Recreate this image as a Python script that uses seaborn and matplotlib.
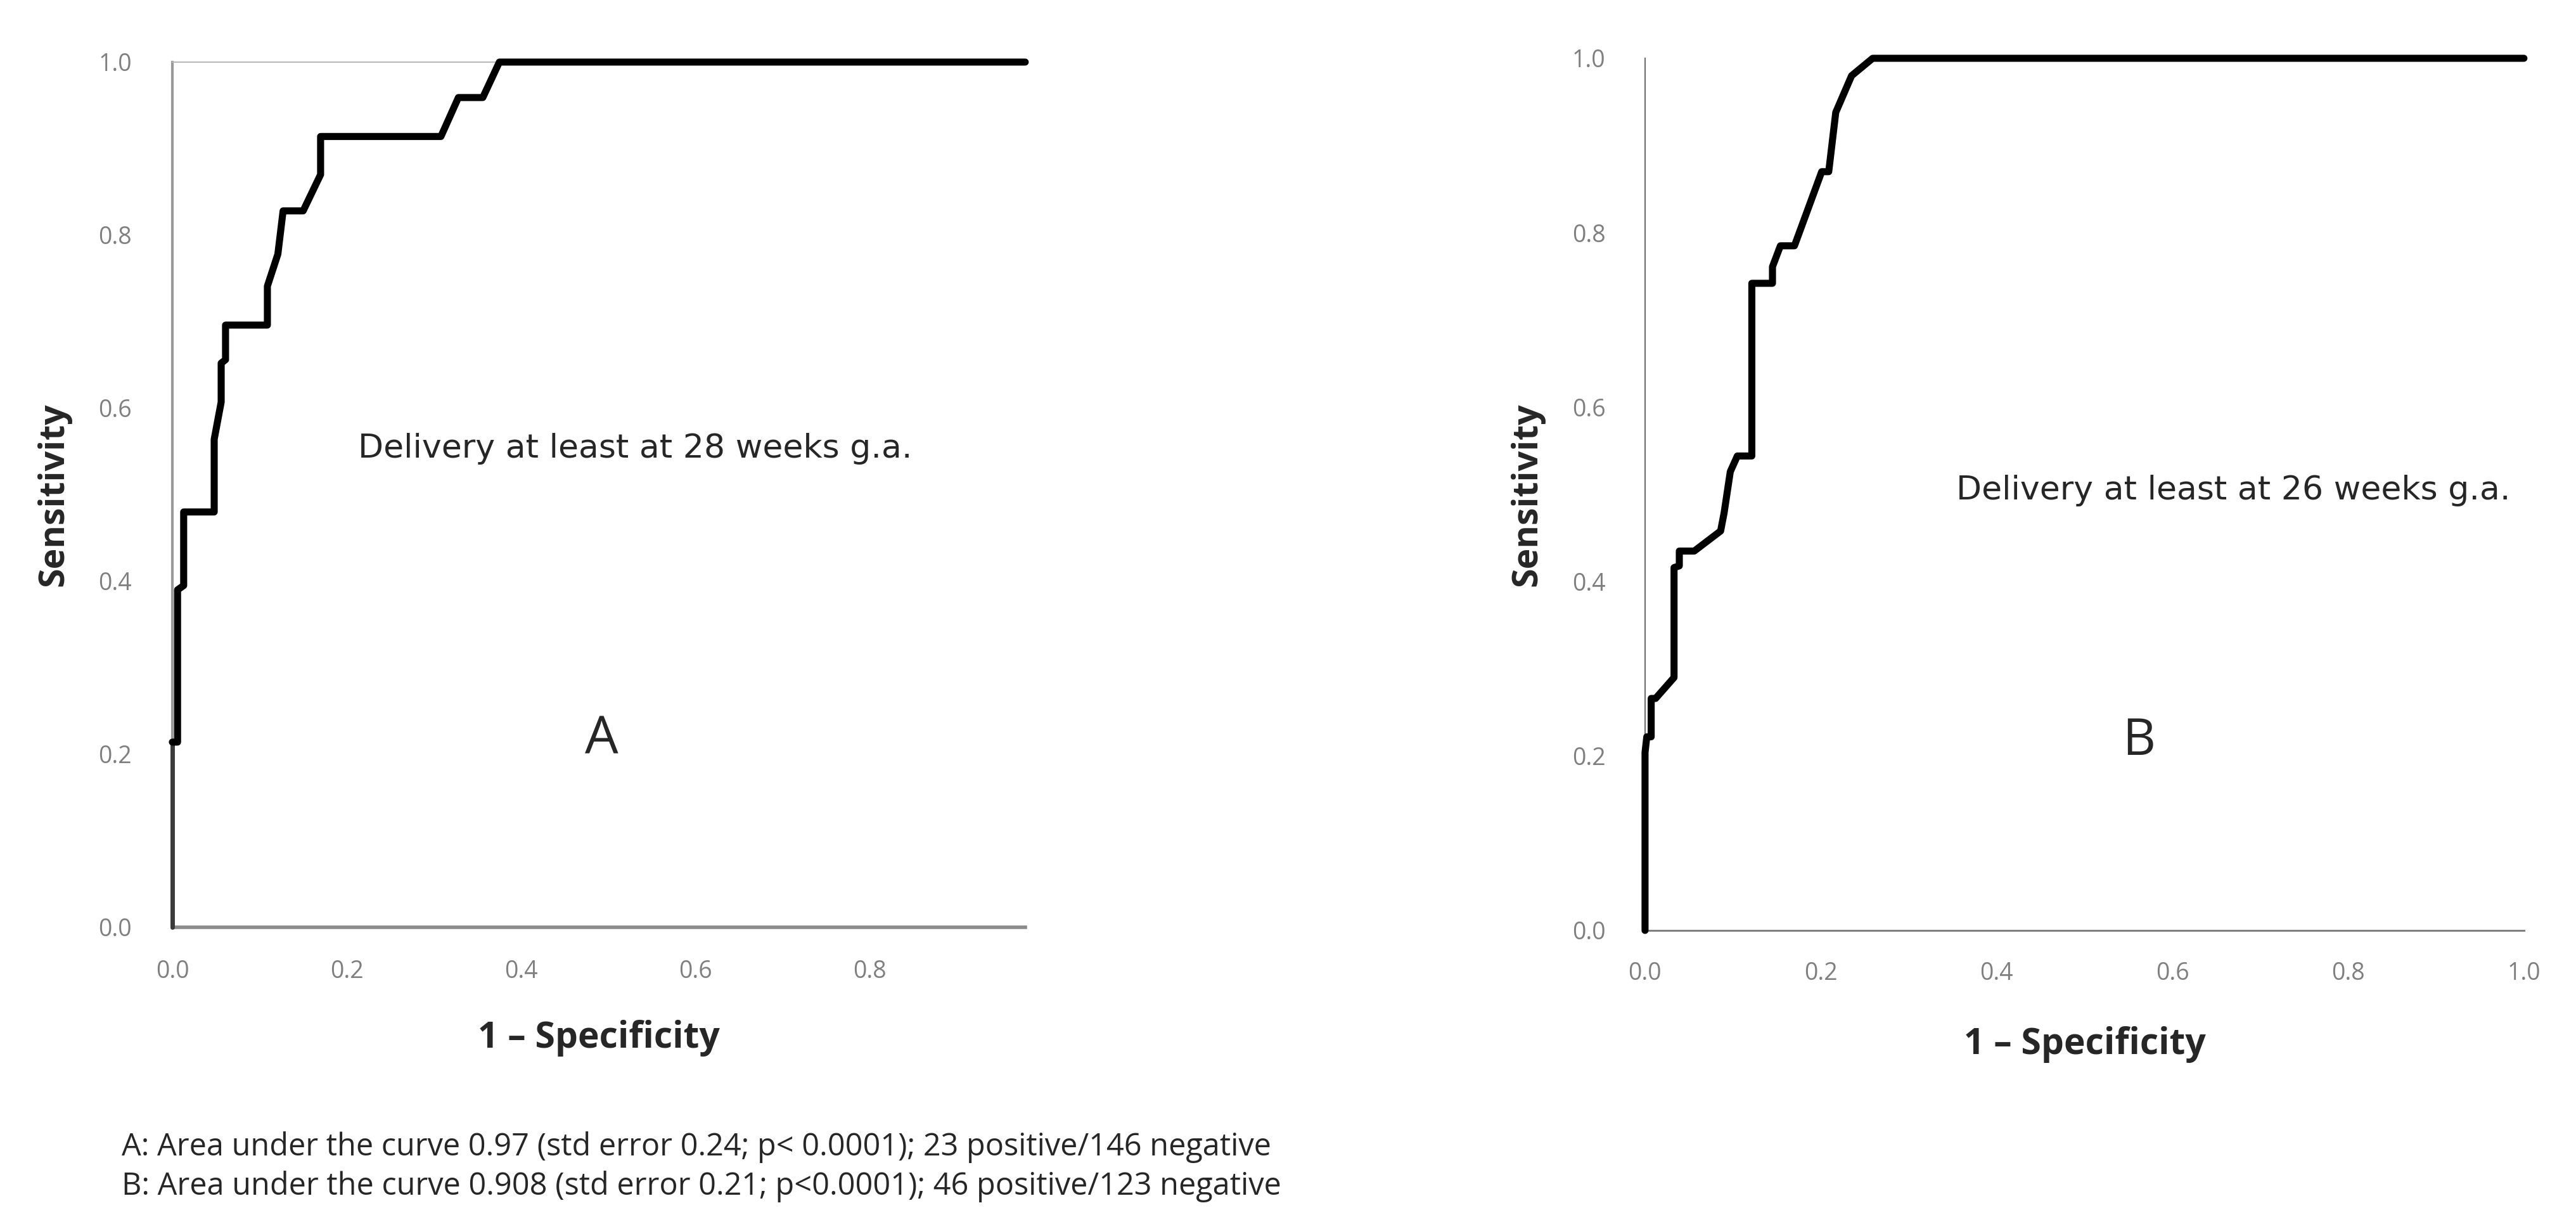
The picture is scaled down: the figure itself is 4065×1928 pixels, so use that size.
import matplotlib
matplotlib.use("Agg")
import matplotlib.pyplot as plt
import seaborn as sns

# =========================
# ROC CURVE DATA
# =========================

# A: delivery at least at 28 weeks g.a.
fpr_a = [0.000, 0.000, 0.006, 0.006, 0.013, 0.013, 0.048, 0.048, 0.056, 0.056,
         0.061, 0.061, 0.109, 0.109, 0.121, 0.127, 0.150, 0.170, 0.170, 0.308,
         0.328, 0.356, 0.375, 0.978]
tpr_a = [0.000, 0.214, 0.214, 0.390, 0.395, 0.480, 0.480, 0.564, 0.607, 0.652,
         0.656, 0.696, 0.696, 0.741, 0.778, 0.828, 0.828, 0.870, 0.914, 0.914,
         0.959, 0.959, 1.000, 1.000]

# B: delivery at least at 26 weeks g.a.
fpr_b = [0.000, 0.000, 0.002, 0.007, 0.007, 0.012, 0.033, 0.033, 0.039, 0.039,
         0.056, 0.086, 0.090, 0.097, 0.105, 0.1215, 0.1215, 0.145, 0.145, 0.154,
         0.170, 0.201, 0.209, 0.217, 0.226, 0.235, 0.259, 1.000]
tpr_b = [0.000, 0.204, 0.222, 0.222, 0.266, 0.266, 0.290, 0.416, 0.418, 0.435,
         0.435, 0.458, 0.479, 0.526, 0.544, 0.544, 0.742, 0.742, 0.761, 0.785,
         0.785, 0.870, 0.870, 0.938, 0.959, 0.980, 1.000, 1.000]

xticks_a = [0.0, 0.2, 0.4, 0.6, 0.8]
xticks_b = [0.0, 0.2, 0.4, 0.6, 0.8, 1.0]
yticks = [0.0, 0.2, 0.4, 0.6, 0.8, 1.0]

label_a = "Delivery at least at 28 weeks g.a."
label_b = "Delivery at least at 26 weeks g.a."
footnotes = [
    "A: Area under the curve 0.97 (std error 0.24; p< 0.0001); 23 positive/146 negative",
    "B: Area under the curve 0.908 (std error 0.21; p<0.0001); 46 positive/123 negative",
]

# =========================
# STYLE
# =========================

sns.set_style("white")
plt.rcParams["font.family"] = ["Open Sans", "DejaVu Sans"]

TICK_GREY = "#7f7f7f"
fig = plt.figure(figsize=(40.65, 19.28), dpi=100)

ax_a = fig.add_axes([0.0669, 0.2412, 0.3311, 0.7080])
ax_b = fig.add_axes([0.6386, 0.2386, 0.3412, 0.7137])

# =========================
# PANEL A
# =========================

sns.lineplot(x=fpr_a[:2], y=tpr_a[:2], sort=False, estimator=None,
             color="#3a3a3a", linewidth=5, ax=ax_a, zorder=3, clip_on=False)
sns.lineplot(x=fpr_a[1:], y=tpr_a[1:], sort=False, estimator=None,
             color="black", linewidth=8, ax=ax_a, zorder=4, clip_on=False)

ax_a.set_xlim(0, 0.978)
ax_a.set_ylim(0, 1)
ax_a.set_xticks(xticks_a)
ax_a.set_xticklabels([f"{t:.1f}" for t in xticks_a])
ax_a.spines["right"].set_visible(False)
ax_a.spines["top"].set_color("#b8b8b8")
ax_a.spines["top"].set_linewidth(1.5)
ax_a.spines["left"].set_color("#9a9a9a")
ax_a.spines["left"].set_linewidth(3)
ax_a.spines["bottom"].set_color("#8a8a8a")
ax_a.spines["bottom"].set_linewidth(4)
ax_a.tick_params(axis="x", length=19, width=3, color="#8a8a8a", pad=18)
ax_a.tick_params(axis="y", length=16, width=1.5, color="#aaaaaa", pad=30)

ax_a.text(0.531, 0.553, label_a, fontsize=37.5, family=["DejaVu Sans"],
          ha="center", va="center")
ax_a.text(0.492, 0.216, "A", fontsize=60, ha="center", va="center")
ax_a.yaxis.set_label_coords(-0.139, 0.5)
ax_a.xaxis.set_label_coords(0.515, -0.128)

# =========================
# PANEL B
# =========================

sns.lineplot(x=fpr_b, y=tpr_b, sort=False, estimator=None,
             color="black", linewidth=8, ax=ax_b, zorder=4, clip_on=False)

ax_b.set_xlim(0, 1)
ax_b.set_ylim(0, 1)
ax_b.set_xticks(xticks_b)
ax_b.set_xticklabels([f"{t:.1f}" for t in xticks_b])
ax_b.spines["right"].set_visible(False)
ax_b.spines["top"].set_visible(False)
ax_b.spines["left"].set_color("#6e6e6e")
ax_b.spines["left"].set_linewidth(1.5)
ax_b.spines["bottom"].set_color("#808080")
ax_b.spines["bottom"].set_linewidth(2.2)
ax_b.tick_params(axis="x", length=17, width=2, color="#8a8a8a", pad=18)
ax_b.tick_params(axis="y", length=16, width=1.5, color="#aaaaaa", pad=29)

ax_b.text(0.669, 0.504, label_b, fontsize=37.5, family=["DejaVu Sans"],
          ha="center", va="center")
ax_b.text(0.562, 0.217, "B", fontsize=58, ha="center", va="center")
ax_b.yaxis.set_label_coords(-0.134, 0.5)
ax_b.xaxis.set_label_coords(0.504, -0.131)

# =========================
# SHARED AXIS TEXT
# =========================

for ax in (ax_a, ax_b):
    ax.set_yticks(yticks)
    ax.set_yticklabels([f"{t:.1f}" for t in yticks])
    for lab in ax.get_xticklabels() + ax.get_yticklabels():
        lab.set_color(TICK_GREY)
        lab.set_fontsize(27)
    ax.set_xlabel("1 \u2013 Specificity", fontsize=41, fontweight="bold",
                  va="center")
    ax.set_ylabel("Sensitivity", fontsize=40, fontweight="bold", va="center")

# =========================
# FOOTNOTE
# =========================

fig.text(0.0472, 0.0612, footnotes[0], fontsize=35, ha="left", va="center")
fig.text(0.0472, 0.0290, footnotes[1], fontsize=35, ha="left", va="center")

plt.savefig("out.png", dpi=100, facecolor="white")
